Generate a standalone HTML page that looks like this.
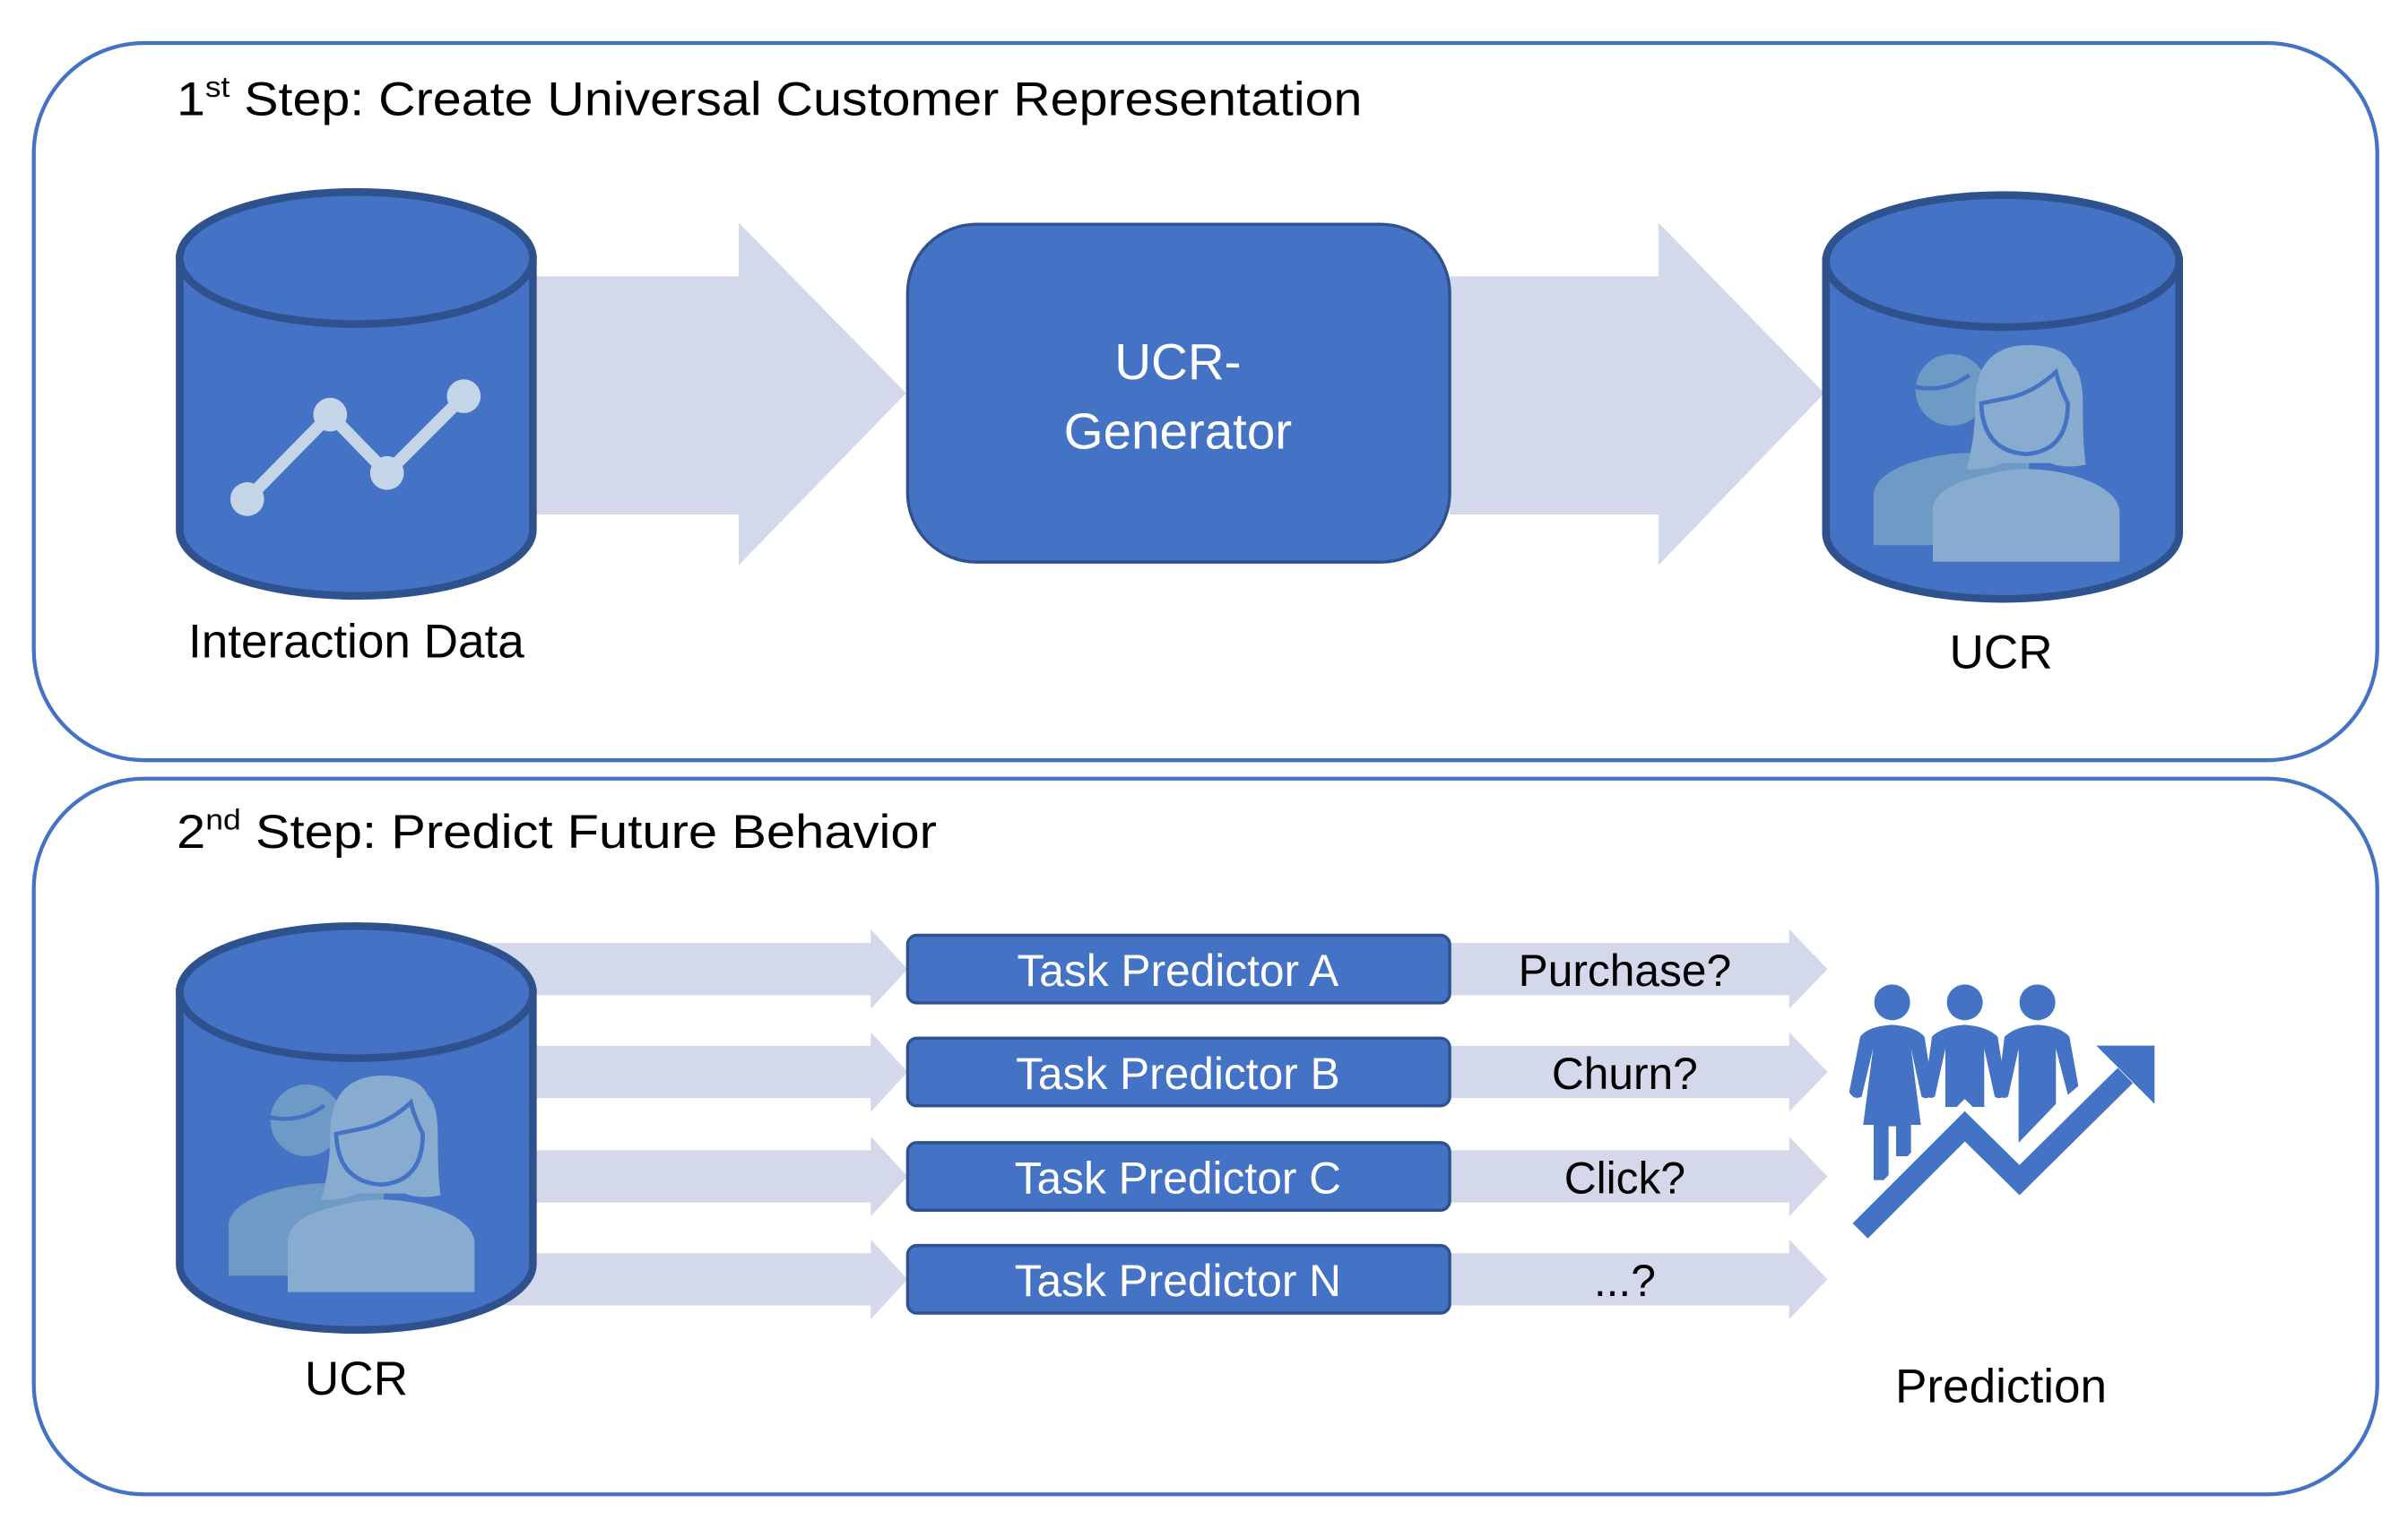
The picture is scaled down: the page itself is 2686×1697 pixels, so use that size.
<!DOCTYPE html>
<html><head><meta charset="utf-8"><style>
html,body{margin:0;padding:0;background:#fff;}
svg{display:block;}
text{font-family:"Liberation Sans",sans-serif;}
</style></head><body>
<svg width="2686" height="1697" viewBox="0 0 2686 1697" xmlns="http://www.w3.org/2000/svg">
<defs>
<g id="people">
  <circle cx="440" cy="255" r="120" fill="#6e9bc6"/>
  <path d="M180,775 L180,600 Q190,540 300,500 Q440,455 560,470 L700,500 L700,775 Z" fill="#6e9bc6"/>
  <path d="M320,245 Q420,265 500,205" fill="none" stroke="#4472c4" stroke-width="14"/>
  <path d="M378,830 L378,650 Q390,590 480,560 Q600,520 690,520 Q800,520 900,560 Q995,600 1003,660 L1003,830 Z" fill="#88acd0"/>
  <path d="M490,520 Q520,420 520,300 Q520,110 690,105 Q820,105 845,170 Q880,200 880,300 Q880,450 890,505 Q820,520 770,500 L610,500 Q560,525 490,520 Z" fill="#88acd0"/>
  <path d="M540,300 Q545,460 690,470 Q830,460 830,300 Q800,240 790,195 Q720,260 640,280 Q590,290 540,300 Z" fill="#88acd0" stroke="#4472c4" stroke-width="14"/>
</g>
<g id="cyl">
  <path d="M0,43 L0,220 A115,43 0 0,0 230,220 L230,43 Z" fill="#4472c4" stroke="#2f528f" stroke-width="5"/>
  <ellipse cx="115" cy="43" rx="115" ry="43" fill="#4472c4" stroke="#2f528f" stroke-width="5"/>
</g>
</defs>

<g transform="scale(1.7130,1.7135)">
  <rect x="22" y="28" width="1526" height="467" rx="72" fill="none" stroke="#4472c4" stroke-width="2.5"/>
  <rect x="22" y="507" width="1526" height="466" rx="72" fill="none" stroke="#4472c4" stroke-width="2.5"/>

  <text x="115" y="75" font-size="31" fill="#000" textLength="772" lengthAdjust="spacingAndGlyphs">1<tspan font-size="19" dy="-12">st</tspan><tspan dy="12"> Step: Create Universal Customer Representation</tspan></text>
  <text x="115" y="552" font-size="31" fill="#000" textLength="495" lengthAdjust="spacingAndGlyphs">2<tspan font-size="19" dy="-12">nd</tspan><tspan dy="12"> Step: Predict Future Behavior</tspan></text>

  <polygon points="347,180 481,180 481,145 590,256 481,368 481,335 347,335" fill="#d3d9ea"/>
  <polygon points="944,180 1080,180 1080,145 1188,256 1080,368 1080,335 944,335" fill="#d3d9ea"/>

  <use href="#cyl" transform="translate(117,125)"/>
  <polyline points="161,325 215,270 252,308 302,258" fill="none" stroke="#c5d5e8" stroke-width="8"/>
  <circle cx="161" cy="325" r="11" fill="#c5d5e8"/>
  <circle cx="215" cy="270" r="11" fill="#c5d5e8"/>
  <circle cx="252" cy="308" r="11" fill="#c5d5e8"/>
  <circle cx="302" cy="258" r="11" fill="#c5d5e8"/>

  <rect x="591" y="146" width="353" height="220" rx="45" fill="#4472c4" stroke="#2f528f" stroke-width="2"/>
  <text x="767" y="247" font-size="33" fill="#fff" text-anchor="middle">UCR-</text>
  <text x="767" y="292" font-size="33" fill="#fff" text-anchor="middle">Generator</text>

  <use href="#cyl" transform="translate(1189,127)"/>

  <text x="232" y="428" font-size="31" text-anchor="middle" fill="#000">Interaction Data</text>
  <text x="1303" y="435" font-size="31" text-anchor="middle" fill="#000">UCR</text>

  <g fill="#d3d9ea">
    <polygon points="300,614 567,614 567,605 591,631 567,657 567,648 300,648"/>
    <polygon points="300,681 567,681 567,672 591,698 567,724 567,715 300,715"/>
    <polygon points="300,749 567,749 567,740 591,766 567,792 567,783 300,783"/>
    <polygon points="300,816 567,816 567,807 591,833 567,859 567,850 300,850"/>
    <polygon points="944,614 1165,614 1165,605 1190,631 1165,657 1165,648 944,648"/>
    <polygon points="944,681 1165,681 1165,672 1190,698 1165,724 1165,715 944,715"/>
    <polygon points="944,749 1165,749 1165,740 1190,766 1165,792 1165,783 944,783"/>
    <polygon points="944,816 1165,816 1165,807 1190,833 1165,859 1165,850 944,850"/>
  </g>
  <use href="#cyl" transform="translate(117,603)"/>

  <g fill="#4472c4" stroke="#2f528f" stroke-width="2">
    <rect x="591" y="609" width="353" height="44" rx="6"/>
    <rect x="591" y="676" width="353" height="44" rx="6"/>
    <rect x="591" y="744" width="353" height="44" rx="6"/>
    <rect x="591" y="811" width="353" height="44" rx="6"/>
  </g>
  <g font-size="29" fill="#fff" text-anchor="middle">
    <text x="767" y="642">Task Predictor A</text>
    <text x="767" y="709">Task Predictor B</text>
    <text x="767" y="777">Task Predictor C</text>
    <text x="767" y="844">Task Predictor N</text>
  </g>
  <g font-size="29" fill="#000" text-anchor="middle">
    <text x="1058" y="642">Purchase?</text>
    <text x="1058" y="709">Churn?</text>
    <text x="1058" y="777">Click?</text>
    <text x="1058" y="844">...?</text>
  </g>
  <text x="232" y="908" font-size="31" text-anchor="middle" fill="#000">UCR</text>
  <text x="1303" y="913" font-size="31" text-anchor="middle" fill="#000">Prediction</text>
</g>

<g transform="translate(2030,350) scale(0.3333)"><use href="#people"/></g>
<g transform="translate(195,1165) scale(0.3333)"><use href="#people"/></g>

<g transform="translate(1950,1050) scale(0.3333)" fill="#4472c4">
  <circle cx="482" cy="205" r="60"/>
  <circle cx="725" cy="205" r="60"/>
  <circle cx="968" cy="205" r="60"/>
  <path d="M375,320 Q400,285 482,280 Q560,285 590,320 L620,510 Q600,535 580,520 L545,360 L578,615 L545,615 L545,720 L495,720 L495,620 L470,620 L470,800 L420,800 L420,615 L385,615 L418,360 L380,520 Q355,535 338,505 Z"/>
  <path d="M615,320 Q650,285 725,280 Q800,285 835,320 L865,510 Q845,535 825,520 L790,360 L790,555 L660,555 L660,360 L625,520 Q605,535 590,505 Z"/>
  <path d="M858,320 Q895,285 968,280 Q1045,285 1075,320 L1105,485 L1070,515 L1030,360 L1030,545 L905,675 L905,360 L870,520 Q850,535 835,505 Z"/>
  <polyline points="375,970 725,620 908,800 1262,450" fill="none" stroke="#fff" stroke-width="130"/>
  <polyline points="375,970 725,620 908,800 1262,450" fill="none" stroke="#4472c4" stroke-width="72"/>
  <polygon points="1165,350 1360,350 1360,545"/>
</g>
</svg>
</body></html>
